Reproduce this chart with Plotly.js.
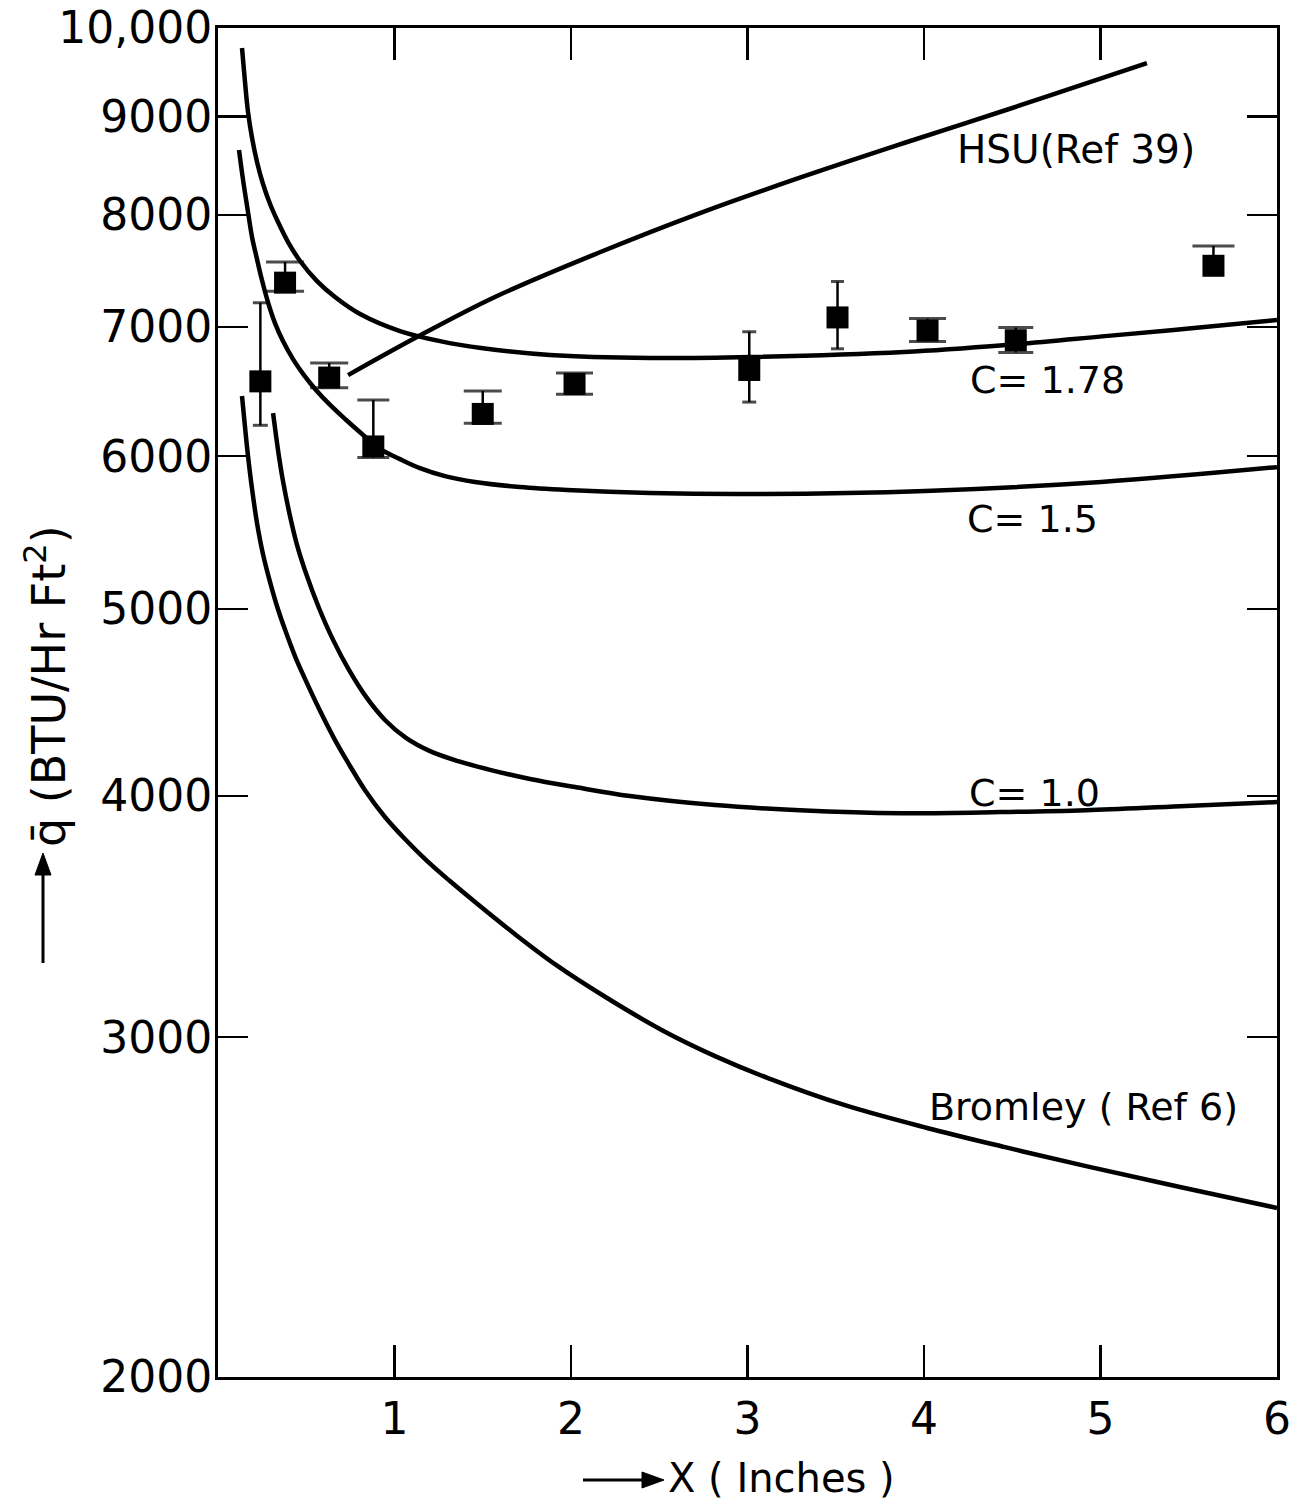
<!DOCTYPE html>
<html>
<head>
<meta charset="utf-8">
<script src="https://cdn.plot.ly/plotly-3.0.1.min.js"></script>
<style>
  html, body { margin: 0; padding: 0; background: #fff; }
  #chart { width: 1309px; height: 1504px; }
</style>
</head>
<body>
<div id="chart"></div>
<script>
// Distance along the surface X (inches) and heat flux q (BTU/Hr Ft^2)

// Measured points with their error bars
const expX     = [0.24, 0.38, 0.63, 0.88, 1.50, 2.02, 3.01, 3.51, 4.02, 4.52, 5.64];
const expQ     = [6560, 7380, 6590, 6070, 6310, 6540, 6650, 7080, 6970, 6890, 7530];
const errPlus  = [645, 185, 115, 345, 175, 85, 310, 310, 100, 105, 180];
const errMinus = [335, 75, 80, 80, 70, 80, 250, 260, 90, 100, 0];

// Predicted curve, C = 1.78
const c178X = [0.136, 0.153, 0.170, 0.193, 0.221, 0.255, 0.295, 0.340, 0.397, 0.465, 0.561, 0.663, 0.805, 1.031, 1.258, 1.501, 1.881, 2.448, 3.020, 3.887, 4.465, 5.042, 5.530, 6.000];
const c178Q = [9765, 9376, 9047, 8770, 8523, 8302, 8106, 7934, 7746, 7573, 7394, 7255, 7109, 6966, 6883, 6825, 6770, 6746, 6754, 6794, 6851, 6926, 6991, 7058];

// Predicted curve, C = 1.5
const c15X = [0.119, 0.142, 0.170, 0.193, 0.221, 0.249, 0.283, 0.323, 0.368, 0.425, 0.487, 0.555, 0.635, 0.720, 0.816, 0.918, 1.031, 1.144, 1.286, 1.456, 1.711, 1.977, 2.448, 3.003, 4.006, 5.003, 6.000];
const c15Q = [8646, 8342, 8029, 7791, 7590, 7403, 7211, 7032, 6883, 6737, 6609, 6493, 6378, 6272, 6161, 6053, 5979, 5915, 5859, 5818, 5783, 5763, 5742, 5735, 5756, 5818, 5922];

// Predicted curve, C = 1.0
const c10X = [0.312, 0.329, 0.346, 0.368, 0.402, 0.448, 0.504, 0.572, 0.652, 0.742, 0.839, 0.946, 1.065, 1.201, 1.360, 1.541, 1.768, 2.023, 2.334, 2.816, 3.297, 3.870, 4.431, 4.918, 5.450, 6.000];
const c10Q = [6316, 6146, 5993, 5825, 5619, 5396, 5200, 5006, 4819, 4649, 4502, 4380, 4287, 4220, 4170, 4127, 4082, 4043, 4000, 3957, 3933, 3919, 3924, 3933, 3952, 3971];

// Bromley (Ref 6)
const bromX = [0.136, 0.153, 0.170, 0.193, 0.221, 0.255, 0.295, 0.334, 0.380, 0.436, 0.493, 0.578, 0.663, 0.748, 0.833, 0.946, 1.059, 1.184, 1.314, 1.484, 1.683, 1.915, 2.193, 2.516, 2.816, 3.116, 3.552, 4.017, 4.459, 4.918, 5.450, 6.000];
const bromQ = [6446, 6212, 6001, 5769, 5540, 5338, 5163, 5018, 4877, 4727, 4600, 4428, 4276, 4146, 4028, 3901, 3800, 3702, 3614, 3508, 3392, 3270, 3148, 3025, 2933, 2857, 2766, 2692, 2631, 2572, 2509, 2447];

// HSU (Ref 39)
const hsuX = [0.737, 1.127, 1.569, 2.153, 2.731, 3.309, 3.887, 4.465, 5.042, 5.263];
const hsuQ = [6609, 6916, 7255, 7646, 8019, 8372, 8718, 9068, 9443, 9590];

// Axis ticks
const xTicks = [1, 2, 3, 4, 5, 6];
const xTickText = ['1', '2', '3', '4', '5', '6'];
const yTicks = [2000, 3000, 4000, 5000, 6000, 7000, 8000, 9000, 10000];
const yTickText = ['2000', '3000', '4000', '5000', '6000', '7000', '8000', '9000', '10,000'];

// ---------- drawing ----------
const FONT = 'DejaVu Sans, Verdana, sans-serif';
const INK = '#000';
const W = 1309, H = 1504;
const M = { l: 218, r: 32, t: 28, b: 127 };
const PW = W - M.l - M.r, PH = H - M.t - M.b;
const paperX = p => (p - M.l) / PW;
const paperY = p => (H - M.b - p) / PH;

function curve(x, y) {
  return {
    x: x, y: y, type: 'scatter', mode: 'lines',
    line: { color: INK, width: 4.5, shape: 'spline', smoothing: 1, simplify: false },
    hoverinfo: 'skip', showlegend: false
  };
}

// crossbar length (px) drawn at the ends of each error bar
const capLen = [15, 38, 38, 32, 38, 37, 14, 13, 37, 35, 42];
const capX = [], capY = [], capSize = [];
expX.forEach((x, i) => {
  capX.push(x); capY.push(expQ[i] + errPlus[i]); capSize.push(capLen[i] / 1.4);
  if (errMinus[i] > 0) {
    capX.push(x); capY.push(expQ[i] - errMinus[i]); capSize.push(capLen[i] / 1.4);
  }
});

const traces = [
  curve(c178X, c178Q),
  curve(c15X, c15Q),
  curve(c10X, c10Q),
  curve(bromX, bromQ),
  curve(hsuX, hsuQ),
  {
    x: expX, y: expQ, type: 'scatter', mode: 'markers',
    marker: { symbol: 'square', size: 22, color: INK },
    error_y: {
      type: 'data', symmetric: false, array: errPlus, arrayminus: errMinus,
      width: 0, thickness: 2.5, color: INK
    },
    hoverinfo: 'x+y', showlegend: false
  },
  {
    x: capX, y: capY, type: 'scatter', mode: 'markers',
    marker: { symbol: 'line-ew', size: capSize, color: INK, line: { width: 3, color: INK } },
    hoverinfo: 'skip', showlegend: false
  }
];

function label(text, left, mid, size) {
  return {
    text: text, xref: 'paper', yref: 'paper', x: paperX(left), y: paperY(mid),
    xanchor: 'left', yanchor: 'middle', showarrow: false,
    font: { family: FONT, size: size || 38, color: INK }
  };
}

// arrows beside the axis titles: a shaft plus a filled head, in page pixels
function arrowShapes(x0, y0, x1, y1, headLen, headHalf) {
  const len = Math.hypot(x1 - x0, y1 - y0);
  const ux = (x1 - x0) / len, uy = (y1 - y0) / len;
  const bx = x1 - ux * headLen, by = y1 - uy * headLen;
  const nx = -uy * headHalf, ny = ux * headHalf;
  const P = (x, y) => paperX(x) + ',' + paperY(y);
  return [
    {
      type: 'line', xref: 'paper', yref: 'paper',
      x0: paperX(x0), y0: paperY(y0), x1: paperX(bx + ux * 2), y1: paperY(by + uy * 2),
      line: { color: INK, width: 3 }
    },
    {
      type: 'path', xref: 'paper', yref: 'paper',
      path: 'M' + P(x1, y1) + 'L' + P(bx + nx, by + ny) + 'L' + P(bx - nx, by - ny) + 'Z',
      fillcolor: INK, line: { color: INK, width: 1 }
    }
  ];
}

const layout = {
  width: W, height: H,
  margin: M,
  paper_bgcolor: '#fff', plot_bgcolor: '#fff',
  showlegend: false,
  xaxis: {
    range: [0, 6], tickvals: xTicks, ticktext: xTickText,
    ticks: 'inside', ticklen: 32, tickwidth: 2.5, tickcolor: INK,
    showline: true, linewidth: 3, linecolor: INK, mirror: 'ticks',
    showgrid: false, zeroline: false, automargin: false,
    ticklabelstandoff: 1,
    tickfont: { family: FONT, size: 44, color: INK }
  },
  yaxis: {
    type: 'log', range: [Math.log10(2000), 4],
    tickvals: yTicks, ticktext: yTickText,
    ticks: 'inside', ticklen: 30, tickwidth: 2.5, tickcolor: INK,
    showline: true, linewidth: 3, linecolor: INK, mirror: 'ticks',
    showgrid: false, zeroline: false, automargin: false,
    ticklabelstandoff: -6,
    tickfont: { family: FONT, size: 44, color: INK }
  },
  shapes: [].concat(
    arrowShapes(583, 1480, 664, 1480, 22, 8),
    arrowShapes(43, 963, 43, 853, 22, 8)
  ),
  annotations: [
    label('HSU(Ref 39)', 955, 150, 39),
    label('C= 1.78', 968, 380),
    label('C= 1.5', 965, 519),
    label('C= 1.0', 967, 793),
    label('Bromley ( Ref 6)', 927, 1107),
    label('X ( Inches )', 666, 1478, 40),
    {
      text: 'q\u0304 (BTU/Hr Ft<sup>2</sup>)', textangle: -90,
      xref: 'paper', yref: 'paper', x: paperX(46), y: paperY(686),
      xanchor: 'center', yanchor: 'middle', showarrow: false,
      font: { family: FONT, size: 46, color: INK }
    }
  ]
};

Plotly.newPlot('chart', traces, layout, { displayModeBar: false, staticPlot: true });
</script>
</body>
</html>
